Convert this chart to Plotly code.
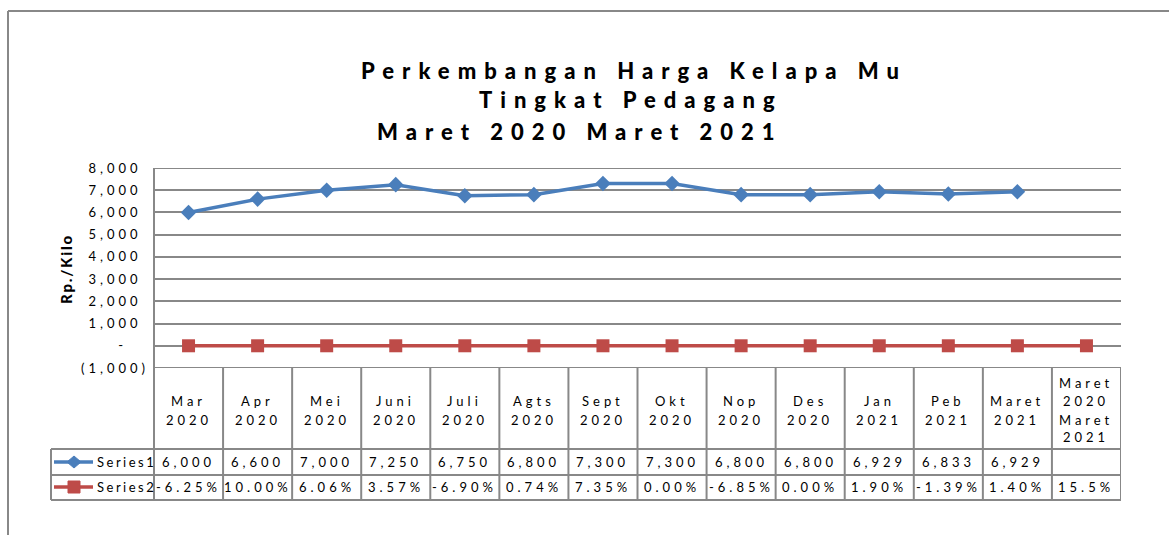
import plotly.graph_objects as go

# ---------------- data ----------------
categories = ["Mar 2020", "Apr 2020", "Mei 2020", "Juni 2020", "Juli 2020", "Agts 2020",
              "Sept 2020", "Okt 2020", "Nop 2020", "Des 2020", "Jan 2021", "Peb 2021",
              "Maret 2021", "Maret 2020 Maret 2021"]
series1 = [6000, 6600, 7000, 7250, 6750, 6800, 7300, 7300, 6800, 6800, 6929, 6833, 6929, None]
series2 = [-0.0625, 0.10, 0.0606, 0.0357, -0.069, 0.0074, 0.0735, 0.0, -0.0685, 0.0,
           0.019, -0.0139, 0.014, 0.155]
series2_decimals = [2, 2, 2, 2, 2, 2, 2, 2, 2, 2, 2, 2, 2, 1]
series_names = ["Series1", "Series2"]
y_ticks = [-1000, 0, 1000, 2000, 3000, 4000, 5000, 6000, 7000, 8000]
y_tick_labels = ["(1,000)", "-   ", "1,000 ", "2,000 ", "3,000 ", "4,000 ", "5,000 ",
                 "6,000 ", "7,000 ", "8,000 "]
title_lines = ["Perkembangan Harga Kelapa Mu", "Tingkat Pedagang", "Maret 2020 Maret 2021"]
y_title = "Rp./Kilo"

# ---------------- layout helpers ----------------
W, H = 1169, 535
L, R, T, B = 154, 1121, 168, 368
FONT = "Lato, 'Open Sans', sans-serif"
GRID = "#888888"
BLUE = "#4A7EBB"
RED = "#BE4B48"


def px(x):
    return (x - L) / (R - L)


def py(y):
    return (B - y) / (B - T)


def ls(t, sp=4):
    return f"<span style='letter-spacing:{sp}px'>{t}</span>"


fig = go.Figure()
fig.add_trace(go.Scatter(x=categories, y=series1, mode="lines+markers", name=series_names[0],
                         line=dict(color=BLUE, width=3.5),
                         marker=dict(symbol="diamond", size=12, color=BLUE),
                         connectgaps=False, showlegend=False, cliponaxis=False, hoverinfo="skip"))
fig.add_trace(go.Scatter(x=categories, y=series2, mode="lines+markers", name=series_names[1],
                         line=dict(color=RED, width=3.5),
                         marker=dict(symbol="square", size=13, color=RED),
                         showlegend=False, cliponaxis=False, hoverinfo="skip"))

shapes = []
ann = []

# outer chart border (left + top)
shapes.append(dict(type="line", xref="paper", yref="paper", x0=px(8), x1=px(8), y0=py(11), y1=py(540),
                   line=dict(color=GRID, width=2)))
shapes.append(dict(type="line", xref="paper", yref="paper", x0=px(8), x1=px(1175), y0=py(11), y1=py(11),
                   line=dict(color=GRID, width=2)))

# gridlines at the range edges (plotly omits them)
for yv in [y_ticks[0], y_ticks[-1]]:
    shapes.append(dict(type="line", xref="paper", yref="y", x0=0, x1=1, y0=yv, y1=yv,
                       line=dict(color=GRID, width=2), layer="below"))

# vertical axis line
shapes.append(dict(type="line", xref="paper", yref="paper", x0=0, x1=0, y0=py(T), y1=py(500),
                   line=dict(color=GRID, width=2)))
# table vertical lines at category boundaries
n = len(categories)
for i in range(1, n + 1):
    shapes.append(dict(type="line", xref="x", yref="paper", x0=i - 0.5, x1=i - 0.5, y0=py(B), y1=py(500),
                       line=dict(color=GRID, width=2)))
# legend column left border
shapes.append(dict(type="line", xref="paper", yref="paper", x0=px(51), x1=px(51), y0=py(449), y1=py(500),
                   line=dict(color=GRID, width=2)))
# table horizontal lines
for yy in [449, 475, 500]:
    shapes.append(dict(type="line", xref="paper", yref="paper", x0=px(51), x1=1, y0=py(yy), y1=py(yy),
                       line=dict(color=GRID, width=2)))

# header labels
for i, c in enumerate(categories):
    words = c.split(" ")
    rows = [401, 420] if len(words) == 2 else [383, 401, 420, 437]
    for w, yy in zip(words, rows):
        ann.append(dict(x=i, xref="x", y=py(yy), yref="paper", text=ls(w), showarrow=False,
                        xanchor="center", yanchor="middle", font=dict(size=13, color="black", family=FONT)))

# table values
row_y = [462, 487]
for i in range(n):
    v1 = series1[i]
    if v1 is not None:
        ann.append(dict(x=i, xref="x", y=py(row_y[0]), yref="paper", text=ls(f"{v1:,.0f}"),
                        showarrow=False, xanchor="center", yanchor="middle",
                        font=dict(size=13, color="black", family=FONT)))
    v2 = series2[i]
    ann.append(dict(x=i, xref="x", y=py(row_y[1]), yref="paper",
                    text=ls(f"{v2 * 100:.{series2_decimals[i]}f}%"),
                    showarrow=False, xanchor="center", yanchor="middle",
                    font=dict(size=13, color="black", family=FONT)))

# legend keys inside table
for k, (name, col) in enumerate(zip(series_names, [BLUE, RED])):
    yy = row_y[k]
    shapes.append(dict(type="line", xref="paper", yref="paper", x0=px(54), x1=px(93), y0=py(yy), y1=py(yy),
                       line=dict(color=col, width=3.5)))
    if k == 0:
        path = (f"M {px(67)} {py(yy)} L {px(74)} {py(yy - 6)} L {px(81)} {py(yy)} "
                f"L {px(74)} {py(yy + 6)} Z")
        shapes.append(dict(type="path", xref="paper", yref="paper", path=path,
                           fillcolor=col, line=dict(color=col, width=1)))
    else:
        shapes.append(dict(type="rect", xref="paper", yref="paper", x0=px(68), x1=px(80),
                           y0=py(yy - 6), y1=py(yy + 6), fillcolor=col, line=dict(color=col, width=1)))
    ann.append(dict(x=px(95), xref="paper", y=py(yy), yref="paper", text=ls(name, 2.5), showarrow=False,
                    xanchor="left", yanchor="middle", font=dict(size=13, color="black", family=FONT)))

# title
for t, (cx, cy) in zip(title_lines, [(634, 70), (631, 100), (580, 131)]):
    ann.append(dict(x=px(cx), xref="paper", y=py(cy), yref="paper", text=ls(t, 8), showarrow=False,
                    xanchor="center", yanchor="middle",
                    font=dict(size=22, color="black", family=FONT, weight=900)))

# y-axis title
ann.append(dict(x=px(66), xref="paper", y=py(269), yref="paper", text=ls(y_title, 1.8), showarrow=False,
                textangle=-90, xanchor="center", yanchor="middle",
                font=dict(size=15, color="black", family=FONT, weight=900)))

fig.update_layout(
    width=W, height=H, autosize=False,
    margin=dict(l=L, r=W - R, t=T, b=H - B, pad=0),
    paper_bgcolor="white", plot_bgcolor="white",
    xaxis=dict(range=[-0.5, n - 0.5], showticklabels=False, showgrid=False, zeroline=False,
               showline=False, ticks="", fixedrange=True),
    yaxis=dict(range=[-1000, 8000], tickvals=y_ticks, ticktext=[ls(t) for t in y_tick_labels],
               showgrid=True, gridcolor=GRID, gridwidth=2, zeroline=False, showline=False, ticks="",
               ticklabelstandoff=4, tickfont=dict(size=13, color="black", family=FONT), fixedrange=True),
    shapes=shapes, annotations=ann, showlegend=False,
)

fig.write_html("out.html", config={"displayModeBar": False},
               post_script="document.body.style.margin='0px';")
